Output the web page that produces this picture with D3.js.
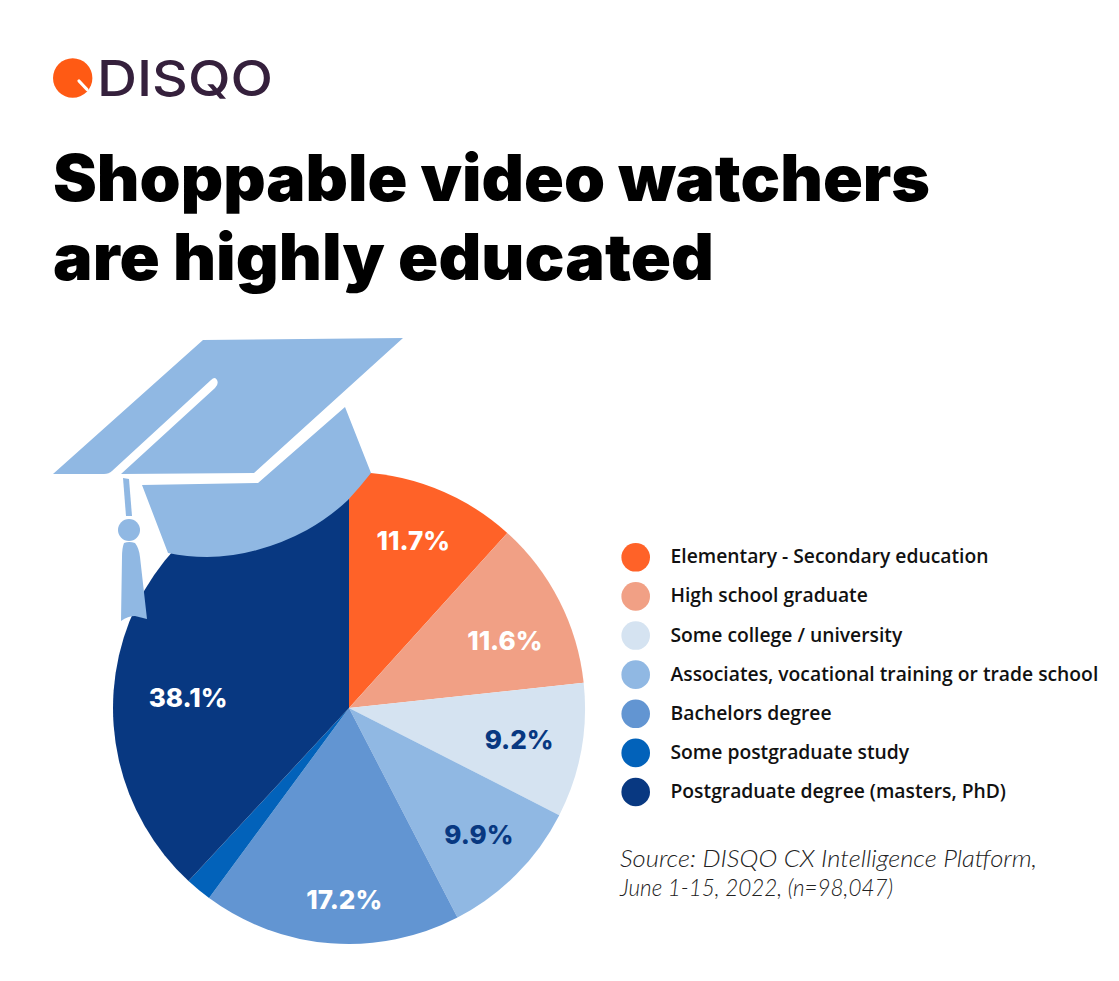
<!DOCTYPE html>
<html><head><meta charset="utf-8">
<script src="https://d3js.org/d3.v7.min.js"></script>
<style>html,body{margin:0;padding:0;background:#fff}svg{display:block}</style>
</head><body><div id="chart"></div>
<script>
const categories = ["Elementary - Secondary education","High school graduate","Some college / university","Associates, vocational training or trade school","Bachelors degree","Some postgraduate study","Postgraduate degree (masters, PhD)"];
const values = [11.7,11.6,9.2,9.9,17.7,1.8,38.1];
const valueLabels = ["11.7%","11.6%","9.2%","9.9%","17.2%","","38.1%"];
const colors = ["#FF6228","#F1A085","#D5E3F1","#90B8E3","#6295D2","#0262BA","#083881"];
const labelColors = ["#fff","#fff","#083881","#083881","#fff","#fff","#fff"];
const titleLines = ["Shoppable video watchers","are highly educated"];
const sourceLines = ["Source: DISQO CX Intelligence Platform,","June 1-15, 2022, (n=98,047)"];
const labelNudge = [[1,-3],[-1,13],[-3,0],[5,3],[9,17],[0,0],[3,54]];

const W=1119,H=981,cx=349,cy=708,R=236;
const svg=d3.select("#chart").append("svg").attr("width",W).attr("height",H).attr("viewBox",[0,0,W,H]);

// Logo
svg.append("circle").attr("cx",72.7).attr("cy",78).attr("r",19.7).attr("fill","#FF5A14");
svg.append("line").attr("x1",79).attr("y1",81).attr("x2",87).attr("y2",89.5).attr("stroke","#fff").attr("stroke-width",3.2).attr("stroke-linecap","round");
svg.append("text").attr("x",97).attr("y",95.5).attr("font-family","Inter").attr("font-weight",500).attr("font-size",50)
  .attr("textLength",176).attr("lengthAdjust","spacingAndGlyphs").attr("fill","#35203C").text("DISQO");

// Title
const titleWidths=[877,661];
svg.selectAll("text.title").data(titleLines).join("text").attr("class","title")
  .attr("x",53).attr("y",(d,i)=>201+i*79).attr("font-family","Inter").attr("font-weight",900).attr("font-size",64)
  .attr("textLength",(d,i)=>titleWidths[i]).attr("lengthAdjust","spacingAndGlyphs")
  .attr("fill","#000").text(d=>d);

// Pie
const pie=d3.pie().sort(null).value(d=>d)(values);
const arc=d3.arc().innerRadius(0).outerRadius(R);
const labelArc=d3.arc().innerRadius(176).outerRadius(176);
const g=svg.append("g").attr("transform",`translate(${cx},${cy})`);
g.selectAll("path").data(pie).join("path").attr("d",arc).attr("fill",(d,i)=>colors[i]);

// Graduation cap illustration
const cap="#90B8E3";
svg.append("path").attr("fill",cap).attr("d","M203,340 L403,338 L254,473 L121,474 L215,388 Q219,384 217,380 Q215,376 211,380 L112,471 Q109,474 104,474 L53,474 Z");
svg.append("path").attr("fill",cap).attr("d","M142,485 L258,483 L345,407 L371,473 Q360,487 348,500 Q330,517 307,530 Q283,543 257,550 Q232,557 207,557 Q187,557 168,553 Z");
svg.append("path").attr("fill",cap).attr("d","M123,478 L129,479 L132,516 L126,516 Z");
svg.append("circle").attr("cx",129).attr("cy",530).attr("r",11).attr("fill",cap);
svg.append("path").attr("fill",cap).attr("d","M124,543 Q129,541 135,543 Q139,548 140,557 L147,619 L135,616 Q128,616 121,621 L122,557 Q122,548 124,543 Z");

// Value labels
g.selectAll("text.val").data(pie).join("text").attr("class","val")
  .attr("x",(d,i)=>labelArc.centroid(d)[0]+labelNudge[i][0])
  .attr("y",(d,i)=>labelArc.centroid(d)[1]+labelNudge[i][1]+9)
  .attr("text-anchor","middle").attr("font-family","Inter").attr("font-weight",800).attr("font-size",26)
  .attr("fill",(d,i)=>labelColors[i]).text((d,i)=>valueLabels[i]);

// Legend
const ly=d3.scalePoint().domain(categories).range([557.3,792]);
const leg=svg.selectAll("g.leg").data(categories).join("g").attr("class","leg").attr("transform",d=>`translate(0,${ly(d)})`);
leg.append("circle").attr("cx",635.7).attr("r",14.3).attr("fill",(d,i)=>colors[i]);
leg.append("text").attr("x",670.5).attr("y",6).attr("font-family","Open Sans").attr("font-weight",600).attr("font-size",19.3).attr("fill","#111").text(d=>d);

// Source
const srcWidths=[417,273];
svg.selectAll("text.src").data(sourceLines).join("text").attr("class","src")
  .attr("x",620).attr("y",(d,i)=>867+i*29).attr("font-family","Lato").attr("font-style","italic").attr("font-weight",300)
  .attr("font-size",24).attr("textLength",(d,i)=>srcWidths[i]).attr("lengthAdjust","spacingAndGlyphs")
  .attr("fill","#222").text(d=>d);
</script></body></html>
